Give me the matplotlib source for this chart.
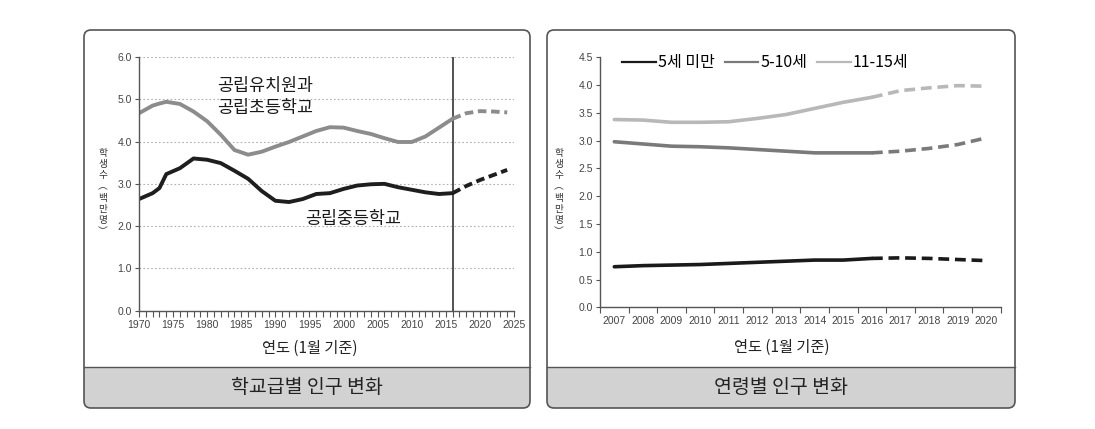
import matplotlib
matplotlib.use("Agg")
import matplotlib.pyplot as plt
from matplotlib.patches import FancyBboxPatch, Rectangle
from matplotlib.lines import Line2D
from matplotlib.ticker import MultipleLocator, FixedLocator, NullFormatter

plt.rcParams['font.family'] = ['Noto Sans CJK KR', 'DejaVu Sans']

# ---------------- data: left panel (school level) ----------------
years_solid = [1970, 1972, 1973, 1974, 1976, 1978, 1980, 1982, 1984, 1986, 1988, 1990,
               1992, 1994, 1996, 1998, 2000, 2002, 2004, 2006, 2008, 2010, 2012, 2014, 2016]
elem_solid = [4.67, 4.85, 4.90, 4.94, 4.89, 4.71, 4.48, 4.16, 3.80, 3.69, 3.76, 3.88,
              3.99, 4.12, 4.25, 4.34, 4.33, 4.25, 4.18, 4.08, 3.99, 3.99, 4.12, 4.33, 4.54]
sec_solid = [2.64, 2.78, 2.90, 3.23, 3.37, 3.60, 3.57, 3.49, 3.31, 3.12, 2.83, 2.60,
             2.57, 2.64, 2.76, 2.78, 2.88, 2.96, 2.99, 3.00, 2.92, 2.86, 2.80, 2.76, 2.78]
years_proj = [2016, 2018, 2020, 2022, 2024]
elem_proj = [4.54, 4.67, 4.72, 4.71, 4.69]
sec_proj = [2.78, 2.95, 3.09, 3.21, 3.33]
label_elem = "공립유치원과\n공립초등학교"
label_sec = "공립중등학교"

# ---------------- data: right panel (age group) ----------------
age_years = ['2007', '2008', '2009', '2010', '2011', '2012', '2013',
             '2014', '2015', '2016', '2017', '2018', '2019', '2020']
under5 = [0.73, 0.75, 0.76, 0.77, 0.79, 0.81, 0.83, 0.85, 0.85, 0.88, 0.89, 0.88, 0.86, 0.84]
age5_10 = [2.98, 2.94, 2.90, 2.89, 2.87, 2.84, 2.81, 2.78, 2.78, 2.78, 2.81, 2.86, 2.93, 3.05]
age11_15 = [3.38, 3.37, 3.33, 3.33, 3.34, 3.40, 3.47, 3.58, 3.69, 3.78, 3.90, 3.95, 3.99, 3.98]
series_names = ['5세 미만', '5-10세', '11-15세']
n_actual = 10  # 2007-2016 actual, then projection

title_left = "학교급별 인구 변화"
title_right = "연령별 인구 변화"
xlabel = "연도 (1월 기준)"
ylabel = "학\n생\n수\n︵\n백\n만\n명\n︶"

W, H = 1095, 429
fig = plt.figure(figsize=(W / 100, H / 100), dpi=100)
fig.patch.set_facecolor('white')
num_font = 'Liberation Sans'

def px_axes(l, r, t, b):
    return fig.add_axes([l / W, (H - b) / H, (r - l) / W, (b - t) / H])

def panel(x0, x1, y0, y1, yfoot, title):
    tr = fig.dpi_scale_trans
    outer = FancyBboxPatch((x0 / 100, (H - y1) / 100), (x1 - x0) / 100, (y1 - y0) / 100,
                           boxstyle="round,pad=0,rounding_size=0.07", transform=tr,
                           facecolor='none', edgecolor='#555555', linewidth=1.2, zorder=5)
    foot = Rectangle((x0 / 100, (H - y1) / 100), (x1 - x0) / 100, (y1 - yfoot) / 100,
                     transform=tr, facecolor='#d2d2d2', edgecolor='none', zorder=1)
    fig.patches.append(foot)
    fig.patches.append(outer)
    foot.set_clip_path(outer)
    fig.add_artist(Line2D([x0 / W, x1 / W], [(H - yfoot) / H] * 2, color='#555555', lw=1.0))
    fig.text((x0 + x1) / 2 / W, (H - (yfoot + y1) / 2) / H, title, ha='center', va='center',
             fontsize=14, color='#222222')

panel(84, 530, 30, 408, 367, title_left)
panel(547, 1015, 30, 408, 367, title_right)

tick_col = '#444444'

# ---------------- left axes ----------------
ax1 = px_axes(139, 514, 57, 310.7)
ax1.set_xlim(1970, 2025)
ax1.set_ylim(0, 6)
for s in ['top', 'right']:
    ax1.spines[s].set_visible(False)
for s in ['left', 'bottom']:
    ax1.spines[s].set_color('#555555')
    ax1.spines[s].set_linewidth(1.0)
ax1.xaxis.set_major_locator(MultipleLocator(5))
ax1.xaxis.set_minor_locator(MultipleLocator(1))
ax1.set_yticks([0, 1, 2, 3, 4, 5, 6])
ax1.set_yticklabels([f"{v:.1f}" for v in [0, 1, 2, 3, 4, 5, 6]])
ax1.tick_params(axis='both', which='both', direction='out', colors='#555555',
                labelcolor=tick_col, labelsize=7.5, width=0.8, labelfontfamily=num_font)
ax1.tick_params(axis='x', which='major', length=4, pad=3)
ax1.tick_params(axis='x', which='minor', length=4)
ax1.tick_params(axis='y', length=3, pad=2)
ax1.grid(axis='y', linestyle=(0, (1.5, 2)), color='#b0b0b0', linewidth=0.8)
ax1.set_axisbelow(True)
ax1.axvline(2016, color='#444444', lw=1.3)

c_elem = '#8c8c8c'
c_sec = '#1e1e1e'
ax1.plot(years_solid, elem_solid, color=c_elem, lw=2.8, solid_joinstyle='round', solid_capstyle='round')
ax1.plot(years_proj, elem_proj, color=c_elem, lw=2.8, linestyle=(0, (2.2, 1.2)))
ax1.plot(years_solid, sec_solid, color=c_sec, lw=2.8, solid_joinstyle='round', solid_capstyle='round')
ax1.plot(years_proj, sec_proj, color=c_sec, lw=2.8, linestyle=(0, (2.2, 1.2)))
ax1.text(1981.5, 5.05, label_elem, fontsize=12.5, color='#1a1a1a', ha='left', va='center',
         linespacing=1.25)
ax1.text(1994.3, 2.18, label_sec, fontsize=12.5, color='#1a1a1a', ha='left', va='center')
ax1.set_xlabel(xlabel, fontsize=11, color='#222222')
ax1.xaxis.set_label_coords((310 - 139) / 375, -0.115)
fig.text(103 / W, (H - 192) / H, ylabel, fontsize=7, color='#333333', ha='center', va='center',
         linespacing=1.15)

# ---------------- right axes ----------------
ax2 = px_axes(600, 1000.7, 57.3, 307.3)
xs = list(range(len(age_years)))
ax2.set_xlim(-0.5, len(age_years) - 0.5)
ax2.set_ylim(0, 4.5)
for s in ['top', 'right']:
    ax2.spines[s].set_visible(False)
for s in ['left', 'bottom']:
    ax2.spines[s].set_color('#555555')
    ax2.spines[s].set_linewidth(1.0)
ax2.set_xticks(xs)
ax2.set_xticklabels(age_years)
ax2.xaxis.set_minor_locator(FixedLocator([i - 0.5 for i in range(len(age_years) + 1)]))
ax2.xaxis.set_minor_formatter(NullFormatter())
ax2.tick_params(axis='x', which='major', length=0, pad=6, labelsize=7.5, labelcolor=tick_col,
                labelfontfamily=num_font)
ax2.tick_params(axis='x', which='minor', length=4, direction='out', color='#555555', width=0.8)
yt = [0, 0.5, 1, 1.5, 2, 2.5, 3, 3.5, 4, 4.5]
ax2.set_yticks(yt)
ax2.set_yticklabels([f"{v:.1f}" for v in yt])
ax2.tick_params(axis='y', length=3, direction='out', color='#555555', width=0.8, labelsize=7.5,
                labelcolor=tick_col, pad=2, labelfontfamily=num_font)

cols = ['#1a1a1a', '#7a7a7a', '#b8b8b8']
for vals, c in zip([under5, age5_10, age11_15], cols):
    ax2.plot(xs[:n_actual], vals[:n_actual], color=c, lw=2.6, solid_joinstyle='round',
             solid_capstyle='round')
    ax2.plot(xs[n_actual - 1:], vals[n_actual - 1:], color=c, lw=2.6, linestyle=(0, (3, 1.6)))
handles = [Line2D([], [], color=c, lw=1.6) for c in cols]
ax2.legend(handles, series_names, loc='upper left', bbox_to_anchor=(0.02, 1.07), ncol=3,
           frameon=False, fontsize=11.5, handlelength=2.1, handletextpad=0.15, columnspacing=0.6)
ax2.set_xlabel(xlabel, fontsize=11, color='#222222')
ax2.xaxis.set_label_coords((782 - 600) / 400.7, -0.125)
fig.text(559 / W, (H - 192) / H, ylabel, fontsize=7, color='#333333', ha='center', va='center',
         linespacing=1.15)

fig.savefig('out.png', dpi=100)
